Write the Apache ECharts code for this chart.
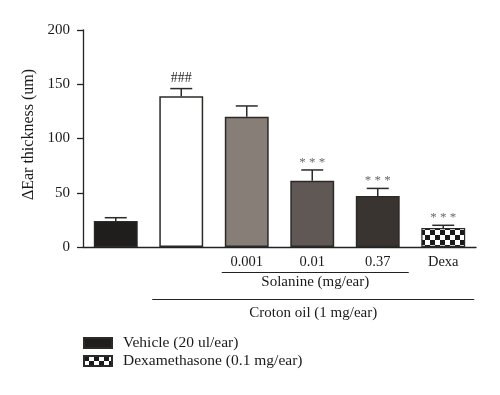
<!DOCTYPE html>
<html>
<head>
<meta charset="utf-8">
<script src="https://cdn.jsdelivr.net/npm/echarts@6/dist/echarts.min.js"></script>
<style>html,body{margin:0;padding:0;background:#fff}#c{width:500px;height:395px}</style>
</head>
<body>
<div id="c"></div>
<script>
// ---- data ----
var categories = ['Vehicle', 'Croton oil', 'Solanine 0.001', 'Solanine 0.01', 'Solanine 0.37', 'Dexa'];
var tickLabels = ['', '', '0.001', '0.01', '0.37', 'Dexa'];
var means = [24, 139, 120, 61, 47, 17.5];
var sems = [3, 7, 10, 10, 7, 2.5];
var marks = ['', '###', '', '***', '***', '***'];
var yTicks = [0, 50, 100, 150, 200];
var legendNames = ['Vehicle (20 ul/ear)', 'Dexamethasone (0.1 mg/ear)'];
var groupLabels = ['Solanine (mg/ear)', 'Croton oil (1 mg/ear)'];
var yTitle = '\u0394Ear thickness (um)';

// ---- styles ----
var FONT = '"Liberation Serif", "DejaVu Serif", serif';
var TXT = '#1a1a1a';
var barColors = ['#1f1e1c', '#ffffff', '#877e78', '#5f5854', '#3a3431', null];
var edge = '#2b2a28';

function checker(size) {
  var c = document.createElement('canvas');
  c.width = size * 2; c.height = size * 2;
  var g = c.getContext('2d');
  g.fillStyle = '#ffffff'; g.fillRect(0, 0, size * 2, size * 2);
  g.fillStyle = '#1a1a1a';
  g.fillRect(0, 0, size, size);
  g.fillRect(size, size, size, size);
  return c;
}
var checkPattern = { image: checker(5), repeat: 'repeat' };

function only(idxs) {
  return means.map(function (v, i) { return idxs.indexOf(i) >= 0 ? v : '-'; });
}

var chart = echarts.init(document.getElementById('c'), null, { renderer: 'canvas' });

var option = {
  animation: false,
  backgroundColor: '#fff',
  grid: { left: 83, right: 24, top: 30, bottom: 148 },
  xAxis: {
    type: 'category',
    data: categories,
    axisLine: { lineStyle: { color: '#222', width: 1.3 } },
    axisTick: { show: false },
    axisLabel: {
      formatter: function (v, i) { return tickLabels[i]; },
      fontFamily: FONT, fontSize: 14.5, color: TXT, margin: 8, interval: 0
    }
  },
  yAxis: {
    type: 'value',
    min: 0, max: 200, interval: 50,
    name: yTitle,
    nameLocation: 'middle',
    nameGap: 40,
    nameTextStyle: { fontFamily: FONT, fontSize: 16, color: TXT, padding: [0, 0, 0, 8] },
    axisLine: { show: true, lineStyle: { color: '#222', width: 1.3 } },
    axisTick: { show: true, length: 6, lineStyle: { color: '#222', width: 1.3 } },
    axisLabel: {
      formatter: function (v) { return yTicks.indexOf(v) >= 0 ? String(v) : ''; },
      fontFamily: FONT, fontSize: 15, color: TXT, margin: 13
    },
    splitLine: { show: false }
  },
  legend: {
    data: legendNames,
    orient: 'vertical',
    left: 78, top: 330,
    itemWidth: 28, itemHeight: 10, itemGap: 2,
    icon: 'rect',
    textStyle: { fontFamily: FONT, fontSize: 15.5, color: TXT, padding: [0, 0, 0, 6] }
  },
  series: [
    {
      name: legendNames[0], type: 'bar', barWidth: '67%', barGap: '-100%',
      data: only([0]),
      itemStyle: { color: barColors[0], borderColor: edge, borderWidth: 1.2 }
    },
    {
      name: 'Treatments', type: 'bar', barWidth: '67%', barGap: '-100%',
      data: means.map(function (v, i) {
        if (i < 1 || i > 4) return '-';
        return { value: v, itemStyle: { color: barColors[i] } };
      }),
      itemStyle: { borderColor: edge, borderWidth: 1.5 }
    },
    {
      name: legendNames[1], type: 'bar', barWidth: '67%', barGap: '-100%',
      data: only([5]),
      itemStyle: { color: checkPattern, borderColor: edge, borderWidth: 1.2 }
    },
    {
      name: 'err', type: 'custom', z: 10,
      data: means.map(function (v, i) { return [i, v, v + sems[i]]; }),
      renderItem: function (params, api) {
        var i = api.value(0);
        var p0 = api.coord([i, api.value(1)]);
        var p1 = api.coord([i, api.value(2)]);
        var half = 11;
        var children = [
          { type: 'line', shape: { x1: p0[0], y1: p0[1], x2: p1[0], y2: p1[1] }, style: { stroke: edge, lineWidth: 1.5 } },
          { type: 'line', shape: { x1: p1[0] - half, y1: p1[1], x2: p1[0] + half, y2: p1[1] }, style: { stroke: edge, lineWidth: 1.5 } }
        ];
        var m = marks[i];
        if (m) {
          var isHash = m.charAt(0) === '#';
          children.push({
            type: 'text',
            style: {
              text: isHash ? m : m.split('').join(' '),
              x: p1[0], y: p1[1] - (isHash ? 3 : 1),
              align: 'center', verticalAlign: 'bottom',
              font: (isHash ? '14px ' : '13px ') + FONT,
              fill: isHash ? '#2a2a2a' : '#6a6a6a'
            }
          });
        }
        return { type: 'group', children: children };
      }
    }
  ]
};
chart.setOption(option);

function px(i) { return chart.convertToPixel({ xAxisIndex: 0 }, categories[i]); }
var c2 = px(2), c4 = px(4), c1 = px(1), c5 = px(5);
var sx1 = c2 - 25, sx2 = c4 + 31, cx1 = c1 - 29, cx2 = c5 + 31;
chart.setOption({
  graphic: [
    { type: 'line', shape: { x1: sx1, y1: 272.5, x2: sx2, y2: 272.5 }, style: { stroke: '#222', lineWidth: 1.2 } },
    { type: 'text', style: { text: groupLabels[0], x: (sx1 + sx2) / 2, y: 282, align: 'center', verticalAlign: 'middle', font: '15px ' + FONT, fill: TXT } },
    { type: 'line', shape: { x1: cx1, y1: 299.5, x2: cx2, y2: 299.5 }, style: { stroke: '#222', lineWidth: 1.2 } },
    { type: 'text', style: { text: groupLabels[1], x: (cx1 + cx2) / 2, y: 313, align: 'center', verticalAlign: 'middle', font: '15px ' + FONT, fill: TXT } }
  ]
});
</script>
</body>
</html>
